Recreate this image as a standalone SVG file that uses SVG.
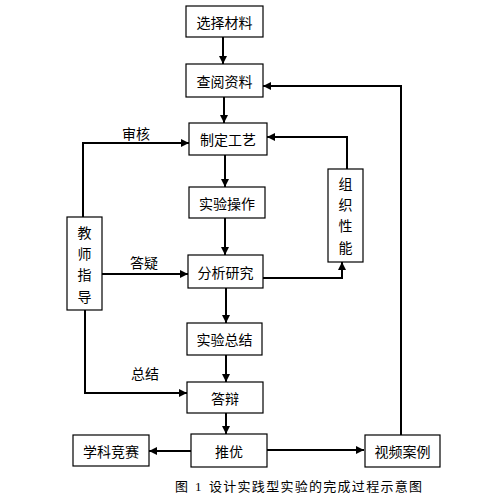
<svg xmlns="http://www.w3.org/2000/svg" width="496" height="496" viewBox="0 0 496 496">
<defs>
<marker id="ah" viewBox="0 0 10 10" refX="10" refY="5" markerWidth="4" markerHeight="4" orient="auto" markerUnits="strokeWidth">
<path d="M0,0 L10,5 L0,10 z" fill="#000"/>
</marker>
<style>
.box{fill:#fff;stroke:#000;stroke-width:1.2}
.t{font-family:"Noto Sans CJK SC","Noto Sans",sans-serif;font-size:14px;fill:#000;text-anchor:middle;dominant-baseline:central}
.c{fill:none;stroke:#000;stroke-width:2;marker-end:url(#ah)}
</style>
</defs>
<rect width="496" height="496" fill="#fff"/>
<g id="connectors">
<path class="c" d="M223,37 V64"/>
<path class="c" d="M224,97 V123"/>
<path class="c" d="M225,155 V187"/>
<path class="c" d="M225,218 V255"/>
<path class="c" d="M226,288 V323"/>
<path class="c" d="M226,355 V382"/>
<path class="c" d="M226,413 V434"/>
<path class="c" d="M83,217 V143 H189"/>
<path class="c" d="M102,274 H188"/>
<path class="c" d="M85,310 V393 H187"/>
<path class="c" d="M263,278 H342 V262"/>
<path class="c" d="M347,169 V137 H267"/>
<path class="c" d="M401,435 V86 H263"/>
<path class="c" d="M267,450 H364"/>
<path class="c" d="M191,451 H149"/>
</g>
<g id="n1"><rect class="box" x="186" y="6" width="77" height="31"/><text class="t" x="224.5" y="21.5">选择材料</text></g>
<g id="n2"><rect class="box" x="186" y="64" width="77" height="33"/><text class="t" x="224.5" y="80.5">查阅资料</text></g>
<g id="n3"><rect class="box" x="189" y="123" width="78" height="32"/><text class="t" x="228" y="139">制定工艺</text></g>
<g id="n4"><rect class="box" x="189" y="187" width="76" height="31"/><text class="t" x="227" y="202.5">实验操作</text></g>
<g id="n5"><rect class="box" x="188" y="255" width="75" height="33"/><text class="t" x="225.5" y="271.5">分析研究</text></g>
<g id="n6"><rect class="box" x="187" y="323" width="75" height="32"/><text class="t" x="224.5" y="339">实验总结</text></g>
<g id="n7"><rect class="box" x="187" y="382" width="76" height="31"/><text class="t" x="225" y="397.5">答辩</text></g>
<g id="n8"><rect class="box" x="191" y="434" width="76" height="33"/><text class="t" x="229" y="450.5">推优</text></g>
<g id="n9"><rect class="box" x="73" y="435" width="76" height="31"/><text class="t" x="111" y="450.5">学科竞赛</text></g>
<g id="n10"><rect class="box" x="365" y="435" width="75" height="32"/><text class="t" x="402.5" y="451">视频案例</text></g>
<g id="n11"><rect class="box" x="67" y="217" width="35" height="93"/>
<text class="t" x="84.5" y="232">教</text><text class="t" x="84.5" y="253">师</text><text class="t" x="84.5" y="274">指</text><text class="t" x="84.5" y="296">导</text></g>
<g id="n12"><rect class="box" x="328" y="169" width="35" height="93"/>
<text class="t" x="345.5" y="183">组</text><text class="t" x="345.5" y="204">织</text><text class="t" x="345.5" y="225">性</text><text class="t" x="345.5" y="247">能</text></g>
<g id="labels">
<text class="t" x="136" y="133">审核</text>
<text class="t" x="144" y="262">答疑</text>
<text class="t" x="145" y="373">总结</text>
</g>
<g id="caption" font-family="Noto Sans CJK SC, sans-serif" font-size="13" fill="#000">
<text x="175" y="491">图</text>
<text x="195" y="491" font-family="Liberation Serif, serif">1</text>
<text x="209" y="491" textLength="213" lengthAdjust="spacing">设计实践型实验的完成过程示意图</text>
</g>
</svg>
